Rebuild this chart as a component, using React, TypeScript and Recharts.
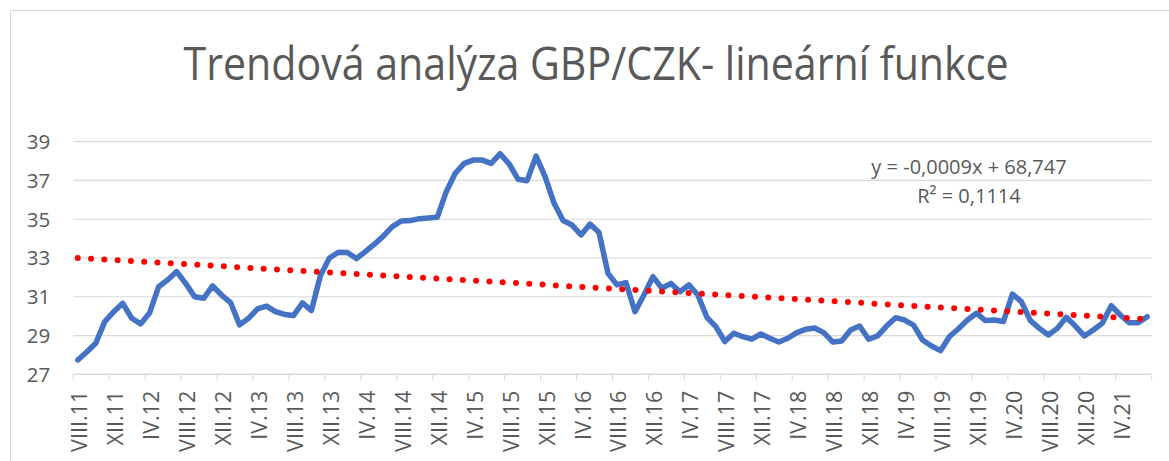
import React from "react";
import { LineChart, Line, XAxis, YAxis, CartesianGrid } from "recharts";

const W = 1169;
const H = 461;
const LEFT = 73.3;
const RIGHT = 17.3;
const TOP = 141.7;
const X_AXIS_H = 86.7;
const TEXT = "#595959";
const GRID = "#d9d9d9";
const FONT = '"Open Sans", "Noto Sans", sans-serif';

// roman month names, start VIII.2011
const ROMAN = ["I", "II", "III", "IV", "V", "VI", "VII", "VIII", "IX", "X", "XI", "XII"];
const START_MONTH = 7; // index into ROMAN (VIII)
const START_YEAR = 11;

// GBP/CZK monthly values, VIII.11 - VII.21
const gbpCzk = [
  27.74, 28.15, 28.6, 29.72, 30.23, 30.66, 29.89, 29.6, 30.18, 31.52,
  31.87, 32.3, 31.69, 31.0, 30.92, 31.56, 31.09, 30.7, 29.55, 29.89,
  30.38, 30.52, 30.23, 30.09, 30.03, 30.68, 30.29, 32.1, 33.0, 33.3,
  33.28, 32.97, 33.33, 33.71, 34.13, 34.62, 34.91, 34.93, 35.03, 35.06,
  35.1, 36.42, 37.37, 37.88, 38.05, 38.05, 37.88, 38.38, 37.85, 37.06,
  36.99, 38.26, 37.2, 35.82, 34.93, 34.7, 34.19, 34.75, 34.31, 32.21,
  31.61, 31.73, 30.23, 31.09, 32.04, 31.44, 31.69, 31.26, 31.61, 31.09,
  29.94, 29.46, 28.69, 29.12, 28.94, 28.81, 29.08, 28.86, 28.67, 28.86,
  29.15, 29.32, 29.39, 29.15, 28.67, 28.72, 29.29, 29.49, 28.81, 28.98,
  29.49, 29.92, 29.8, 29.54, 28.77, 28.46, 28.22, 28.95, 29.35, 29.8,
  30.15, 29.77, 29.8, 29.72, 31.14, 30.75, 29.77, 29.37, 29.03, 29.37,
  29.94, 29.49, 28.98, 29.29, 29.63, 30.54, 30.06, 29.66, 29.66, 29.97,
];

// linear trendline, value at first and last month
const trendEnds = [33.0, 29.84];

const yTicks = [27, 29, 31, 33, 35, 37, 39];

const rows = gbpCzk.map((v, i) => {
  const m = (START_MONTH + i) % 12;
  const y = START_YEAR + Math.floor((START_MONTH + i) / 12);
  return {
    month: `${ROMAN[m]}.${y}`,
    rate: v,
    trend: i === 0 ? trendEnds[0] : i === gbpCzk.length - 1 ? trendEnds[1] : null,
  };
});

const CAT_W = (W - LEFT - RIGHT) / rows.length;

const XTick = (props: any) => {
  const { x, y, payload } = props;
  const axisY = y - 8;
  const idx = payload.index ?? rows.findIndex((r) => r.month === payload.value);
  const tx = x + 9.5;
  const ty = axisY + 16.5;
  const isLast = idx + 4 > rows.length - 1;
  return (
    <g>
      <line x1={x - CAT_W / 2} x2={x - CAT_W / 2} y1={axisY} y2={axisY + 6.5} stroke={GRID} />
      {isLast && (
        <line
          x1={x + (rows.length - idx - 0.5) * CAT_W}
          x2={x + (rows.length - idx - 0.5) * CAT_W}
          y1={axisY}
          y2={axisY + 6.5}
          stroke={GRID}
        />
      )}
      <text
        x={tx}
        y={ty}
        transform={`rotate(-90 ${tx} ${ty})`}
        textAnchor="end"
        fill={TEXT}
        fontSize={21.5}
        fontFamily={FONT}
      >
        {payload.value}
      </text>
    </g>
  );
};

export default function App() {
  return (
    <div
      style={{
        position: "absolute",
        left: 0,
        top: 0,
        width: W,
        height: H,
        overflow: "hidden",
        background: "#fff",
        fontFamily: FONT,
      }}
    >
      <div
        style={{
          position: "absolute",
          left: 10,
          top: 10,
          width: 1300,
          height: 600,
          border: `1px solid ${GRID}`,
        }}
      />
      <div style={{ position: "absolute", left: 0, top: 0 }}>
        <LineChart
          width={W}
          height={H}
          data={rows}
          margin={{ top: TOP, right: RIGHT, bottom: 0, left: 0 }}
        >
          <CartesianGrid vertical={false} stroke={GRID} strokeWidth={1.2} />
          <XAxis
            dataKey="month"
            interval={3}
            height={X_AXIS_H}
            tickLine={false}
            tickSize={6}
            tickMargin={2}
            axisLine={{ stroke: GRID, strokeWidth: 1.2 }}
            padding={{ left: CAT_W / 2, right: CAT_W / 2 }}
            tick={<XTick />}
          />
          <YAxis
            domain={[27, 39]}
            ticks={yTicks}
            width={LEFT}
            axisLine={false}
            tickLine={false}
            tickSize={6}
            tickMargin={17}
            tick={{ fill: TEXT, fontSize: 20.5, fontFamily: FONT }}
          />
          <Line
            dataKey="rate"
            stroke="#4472c4"
            strokeWidth={5.5}
            strokeLinejoin="round"
            strokeLinecap="round"
            dot={false}
            isAnimationActive={false}
          />
          <Line
            dataKey="trend"
            connectNulls
            stroke="#ff0000"
            strokeWidth={6}
            strokeDasharray="0 13.3"
            strokeLinecap="round"
            dot={false}
            isAnimationActive={false}
          />
        </LineChart>
      </div>
      <svg
        width={W}
        height={H}
        style={{ position: "absolute", left: 0, top: 0, pointerEvents: "none" }}
      >
        <text
          x={596}
          y={80}
          textAnchor="middle"
          fontSize={46}
          fontFamily={FONT}
          fill={TEXT}
          textLength={825}
          lengthAdjust="spacingAndGlyphs"
        >
          Trendová analýza GBP/CZK- lineární funkce
        </text>
        <text x={969} y={174} textAnchor="middle" fontSize={20} fontFamily={FONT} fill={TEXT}>
          y = -0,0009x + 68,747
        </text>
        <text x={969} y={203} textAnchor="middle" fontSize={20} fontFamily={FONT} fill={TEXT}>
          R² = 0,1114
        </text>
      </svg>
    </div>
  );
}
